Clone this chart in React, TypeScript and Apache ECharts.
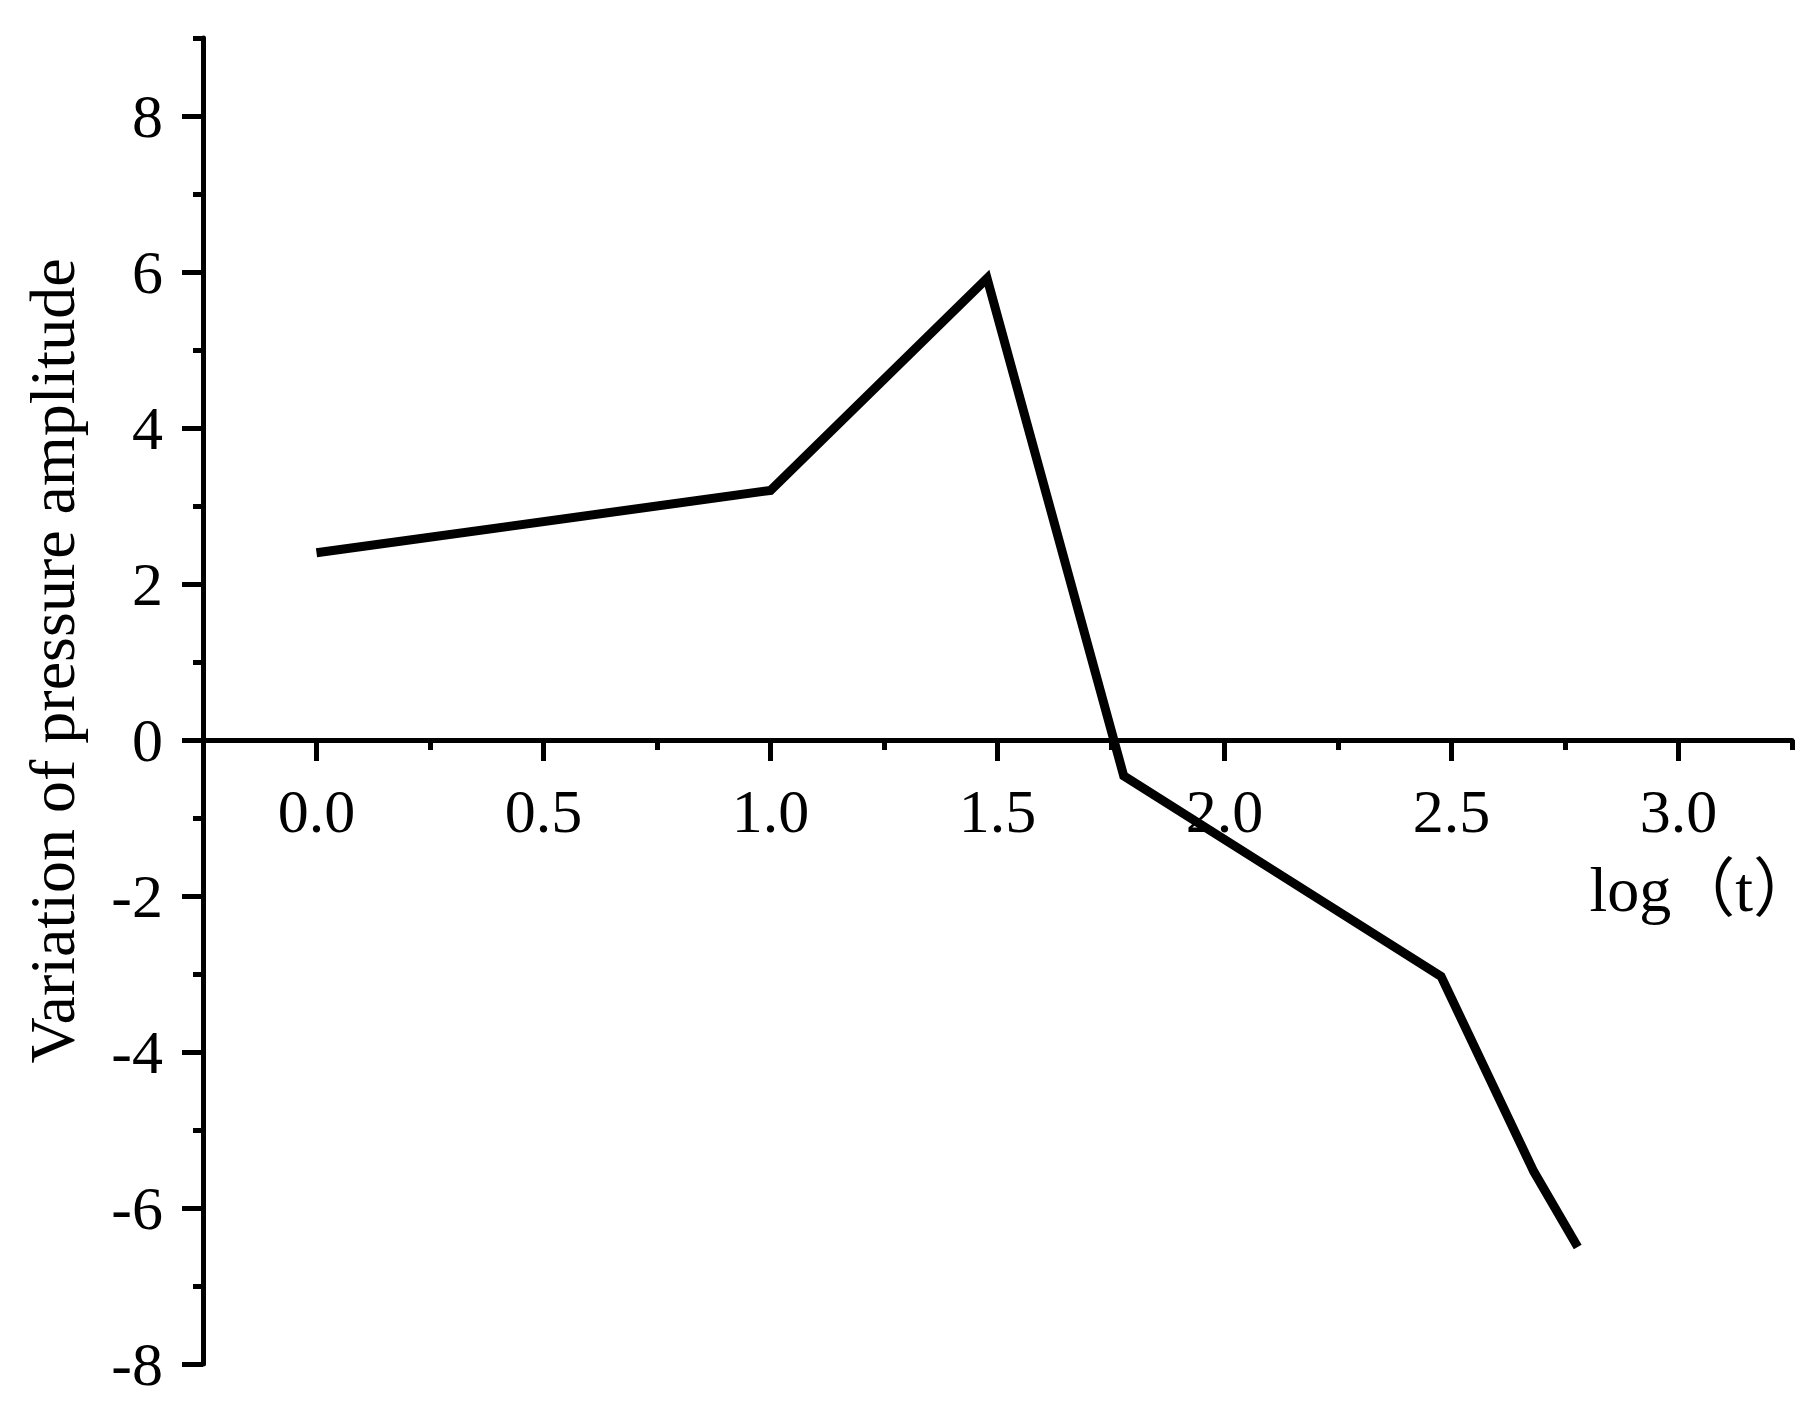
import React, { useEffect, useRef } from "react";
import * as echarts from "echarts";

const logT = [0, 1.0, 1.477, 1.778, 2.477, 2.681, 2.778];
const amplitude = [2.4, 3.2, 5.92, -0.46, -3.03, -5.53, -6.5];
const xMajorTicks = [0, 0.5, 1.0, 1.5, 2.0, 2.5, 3.0];
const xMinorTicks = [0.25, 0.75, 1.25, 1.75, 2.25, 2.75, 3.25];
const yMajorTicks = [-8, -6, -4, -2, 0, 2, 4, 6, 8];
const yMinorTicks = [-7, -5, -3, -1, 1, 3, 5, 7, 9];
const xTitle = "log（t）";
const yTitle = "Variation of pressure amplitude";

const FONT = "'Liberation Serif', 'Times New Roman', serif";

export default function App() {
  const ref = useRef<HTMLDivElement>(null);
  useEffect(() => {
    document.body.style.margin = "0";
    const chart = echarts.init(ref.current!, null, { renderer: "svg" });
    const W = 1819;
    const H = 1402;
    const grid = { left: 203, right: 27, top: 38, bottom: 38 };
    const yMin = -8;
    const yMax = 9;
    const gridH = H - grid.top - grid.bottom;
    const zeroOffset = -gridH * (0 - yMin) / (yMax - yMin);
    const lineW = 5;
    const tickW = 5;
    const option: any = {
      animation: false,
      backgroundColor: "#ffffff",
      grid: { ...grid, containLabel: false, outerBoundsMode: "none" },
      xAxis: [
        {
          type: "value",
          min: -0.25,
          max: 3.25,
          offset: zeroOffset,
          axisLine: { show: true, onZero: false, lineStyle: { color: "#000", width: lineW } },
          axisTick: { show: true, inside: false, length: 21, customValues: xMajorTicks, lineStyle: { color: "#000", width: tickW } },
          axisLabel: {
            show: true,
            customValues: xMajorTicks,
            margin: 40,
            color: "#000",
            fontFamily: FONT,
            fontSize: 62,
            formatter: (v: number) => v.toFixed(1),
          },
          splitLine: { show: false },
        },
        {
          type: "value",
          min: -0.25,
          max: 3.25,
          position: "bottom",
          offset: zeroOffset,
          axisLine: { show: false, onZero: false },
          axisTick: { show: true, inside: false, length: 10, customValues: xMinorTicks, lineStyle: { color: "#000", width: tickW } },
          axisLabel: { show: false },
          splitLine: { show: false },
        },
      ],
      yAxis: [
        {
          type: "value",
          min: yMin,
          max: yMax,
          axisLine: { show: true, onZero: false, lineStyle: { color: "#000", width: lineW } },
          axisTick: { show: true, inside: false, length: 21, customValues: yMajorTicks, lineStyle: { color: "#000", width: tickW } },
          axisLabel: {
            show: true,
            customValues: yMajorTicks,
            margin: 40,
            color: "#000",
            fontFamily: FONT,
            fontSize: 62,
          },
          splitLine: { show: false },
        },
        {
          type: "value",
          min: yMin,
          max: yMax,
          position: "left",
          offset: 0,
          axisLine: { show: false, onZero: false },
          axisTick: { show: true, inside: false, length: 10, customValues: yMinorTicks, lineStyle: { color: "#000", width: tickW } },
          axisLabel: { show: false },
          splitLine: { show: false },
        },
      ],
      series: [
        {
          type: "line",
          xAxisIndex: 0,
          yAxisIndex: 0,
          data: logT.map((x, i) => [x, amplitude[i]]),
          showSymbol: false,
          symbol: "none",
          lineStyle: { color: "#000", width: 9, join: "miter" },
          z: 3,
        },
      ],
      graphic: [
        {
          type: "text",
          x: W - 2,
          y: 889,
          style: {
            text: xTitle,
            fill: "#000",
            font: `64px 'Liberation Serif', 'Noto Sans CJK SC', serif`,
            textAlign: "right",
            textVerticalAlign: "middle",
          },
        },
        {
          type: "text",
          x: 52,
          y: 661,
          rotation: Math.PI / 2,
          style: {
            text: yTitle,
            fill: "#000",
            font: `64px 'Liberation Serif', serif`,
            textAlign: "center",
            textVerticalAlign: "middle",
          },
        },
      ],
    };
    chart.setOption(option);
    return () => chart.dispose();
  }, []);
  return <div ref={ref} style={{ width: 1819, height: 1402 }} />;
}
